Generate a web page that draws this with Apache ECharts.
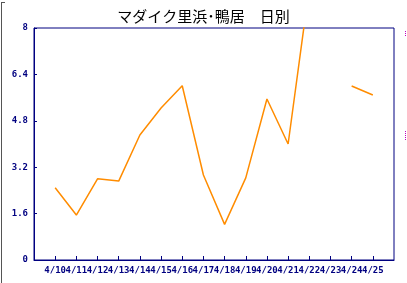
<!DOCTYPE html>
<html><head><meta charset="utf-8">
<script src="https://cdn.jsdelivr.net/npm/echarts@6/dist/echarts.min.js"></script>
<style>html,body{margin:0;padding:0;background:#fff}#c{width:407px;height:283px}</style>
</head><body><div id="c"></div>
<script>
var title = 'マダイク里浜･鴨居　日別';
var categories = ['4/10','4/11','4/12','4/13','4/14','4/15','4/16','4/17','4/18','4/19','4/20','4/21','4/22','4/23','4/24','4/25'];
var values = [2.49, 1.55, 2.80, 2.72, 4.31, 5.24, 6.01, 2.93, 1.23, 2.83, 5.55, 4.0, 9.4, null, 6.0, 5.69];
var yTicks = [0, 1.6, 3.2, 4.8, 6.4, 8];

var navy = '#000080';
var chart = echarts.init(document.getElementById('c'), null, {renderer: 'canvas'});
var seriesData = categories.map(function (c, i) { return [i + 1, values[i]]; });
chart.setOption({
  animation: false,
  title: {text: title, left: 'center', top: 4, textStyle: {fontFamily: 'Noto Sans CJK JP', fontSize: 15, fontWeight: 'normal', color: '#000'}},
  grid: {left: 34, top: 28, right: 13, bottom: 23, show: true, borderColor: navy, borderWidth: 1, backgroundColor: '#fff'},
  xAxis: {
    type: 'value', min: 0, max: categories.length + 1, interval: 1,
    axisLine: {show: true, lineStyle: {color: navy, width: 1}},
    axisTick: {show: true, inside: true, length: 4, lineStyle: {color: navy}},
    splitLine: {show: false},
    axisLabel: {
      color: navy, fontSize: 9, fontWeight: 'bold', fontFamily: 'DejaVu Sans Mono', margin: 6,
      showMinLabel: false, showMaxLabel: false,
      formatter: function (v) { var c = categories[v - 1]; return c === undefined ? '' : c; }
    }
  },
  yAxis: {
    type: 'value', min: 0, max: 8, interval: 1.6,
    axisLine: {show: true, lineStyle: {color: navy, width: 1}},
    axisTick: {show: true, inside: true, length: 3, lineStyle: {color: navy}},
    splitLine: {show: false},
    axisLabel: {
      color: navy, fontSize: 9, fontWeight: 'bold', fontFamily: 'DejaVu Sans Mono', margin: 6,
      formatter: function (v) { var r = Math.round(v * 10) / 10; return yTicks.indexOf(r) >= 0 ? String(r) : ''; }
    }
  },
  series: [{
    type: 'line', data: seriesData, showSymbol: false, symbol: 'none', connectNulls: false,
    lineStyle: {color: '#ff8c00', width: 1.5}, clip: true
  }],
  graphic: [
    {type: 'line', shape: {x1: 1.5, y1: 2, x2: 1.5, y2: 283}, style: {stroke: '#555', lineWidth: 1}},
    {type: 'line', shape: {x1: 1, y1: 2.5, x2: 5, y2: 2.5}, style: {stroke: '#555', lineWidth: 1}},
    {type: 'line', shape: {x1: 405.5, y1: 31, x2: 405.5, y2: 36}, style: {stroke: '#c000c0', lineWidth: 1, lineDash: [1, 1]}},
    {type: 'line', shape: {x1: 405.5, y1: 131, x2: 405.5, y2: 140}, style: {stroke: '#c000c0', lineWidth: 1, lineDash: [1, 1]}}
  ]
});
</script></body></html>
